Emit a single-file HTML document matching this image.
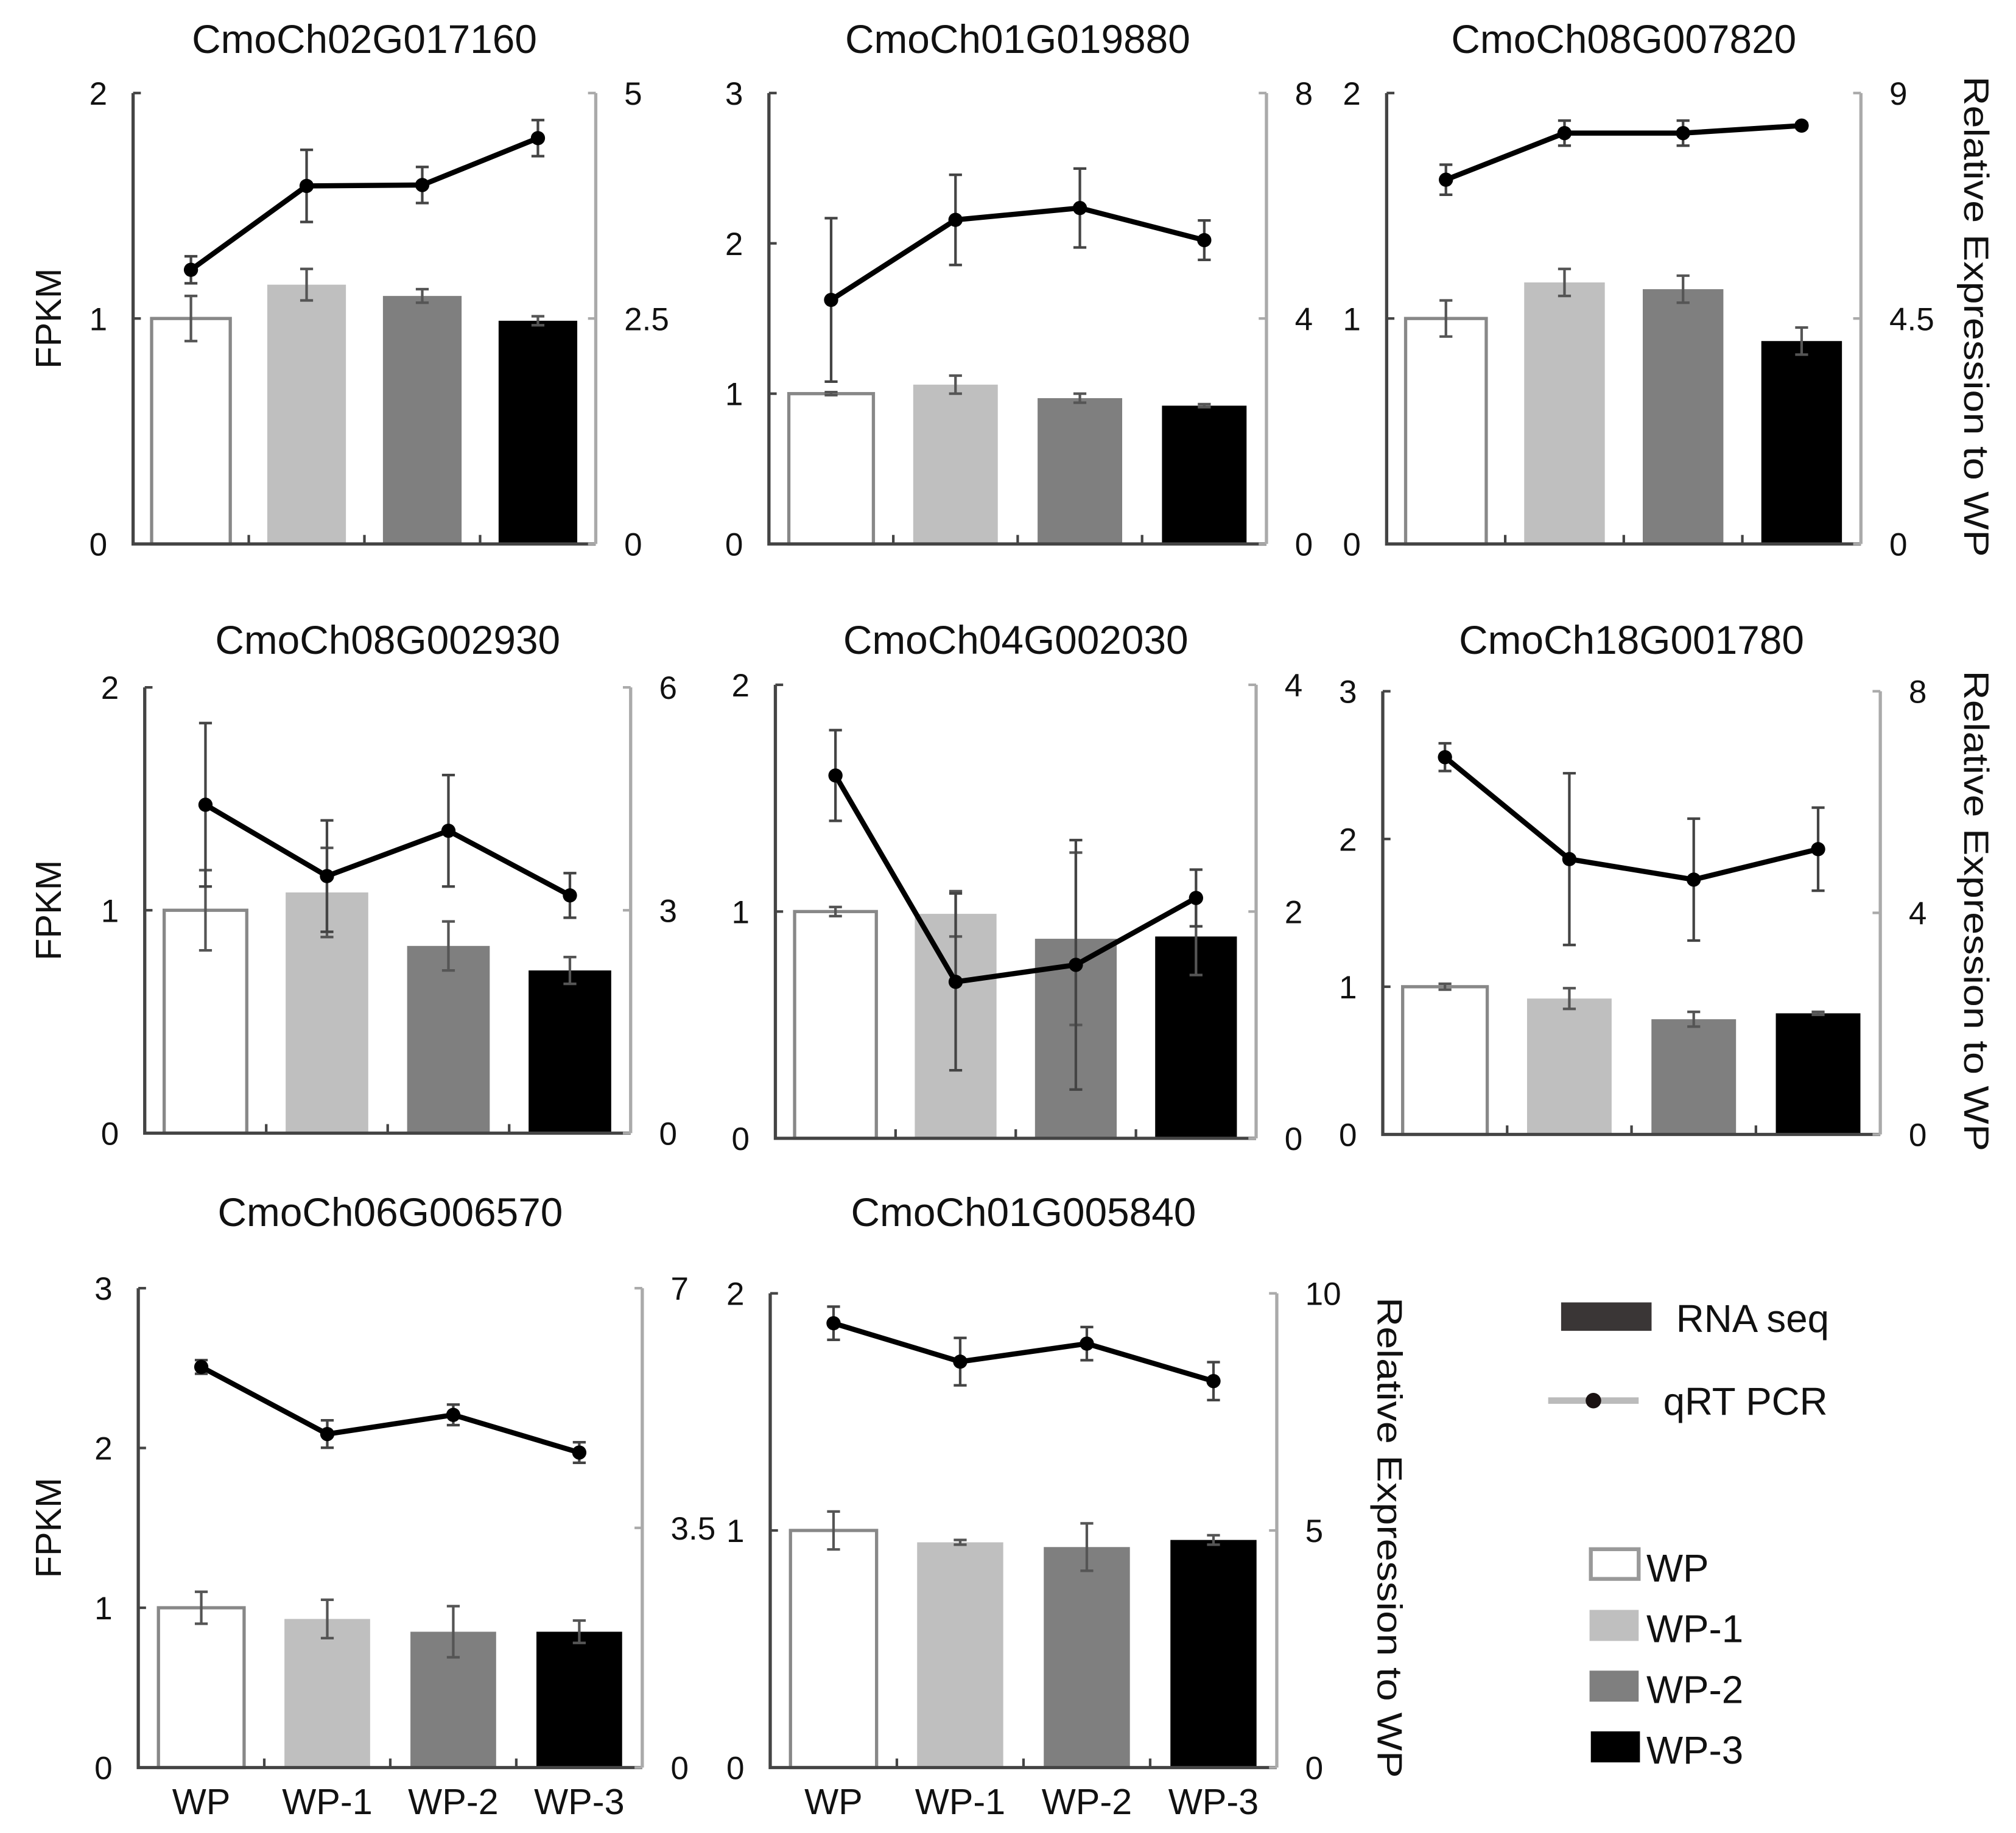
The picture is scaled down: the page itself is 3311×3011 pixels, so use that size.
<!DOCTYPE html>
<html><head><meta charset="utf-8">
<style>
html,body{margin:0;padding:0;background:#fff;}
svg{display:block;}
text{font-family:"Liberation Sans",Arial,sans-serif;fill:#111;}
</style></head>
<body>
<svg id="fig" width="3311" height="3011" viewBox="0 0 1560 1418.65" xmlns="http://www.w3.org/2000/svg">
<g id="panels"></g>
<g id="legend">
  <rect x="1208" y="1008" width="70" height="22" fill="#3a3636"/>
  <text x="1297" y="1031" font-size="30">RNA seq</text>
  <line x1="1198" y1="1084" x2="1268" y2="1084" stroke="#bbb" stroke-width="5"/>
  <circle cx="1233" cy="1084" r="6" fill="#1a1212"/>
  <text x="1287" y="1095" font-size="30">qRT PCR</text>
  <rect x="1231" y="1199" width="37" height="23" fill="#fff" stroke="#999" stroke-width="3"/>
  <text x="1274" y="1224" font-size="30">WP</text>
  <rect x="1230" y="1246" width="38" height="24" fill="#bfbfbf"/>
  <text x="1274" y="1271" font-size="30">WP-1</text>
  <rect x="1230" y="1293" width="38" height="24" fill="#7f7f7f"/>
  <text x="1274" y="1318" font-size="30">WP-2</text>
  <rect x="1231" y="1340" width="38" height="24" fill="#000"/>
  <text x="1274" y="1365" font-size="30">WP-3</text>
</g>
</svg>
<script>
// ---- data ----
const categories = ["WP","WP-1","WP-2","WP-3"];
const geneTitles = ["CmoCh02G017160","CmoCh01G019880","CmoCh08G007820","CmoCh08G002930","CmoCh04G002030","CmoCh18G001780","CmoCh06G006570","CmoCh01G005840"];
const fpkmValues = [[1.0,1.15,1.1,0.99],[1.0,1.06,0.97,0.92],[1.0,1.16,1.13,0.9],[1.0,1.08,0.84,0.73],[1.0,0.99,0.88,0.89],[1.0,0.92,0.78,0.82],[1.0,0.93,0.85,0.85],[1.0,0.95,0.93,0.96]];
const fpkmErrors = [[0.1,0.07,0.03,0.02],[0.01,0.06,0.03,0.01],[0.08,0.06,0.06,0.06],[0.18,0.2,0.11,0.06],[0.02,0.1,0.38,0.17],[0.02,0.07,0.05,0.01],[0.1,0.12,0.16,0.07],[0.08,0.01,0.1,0.02]];
const qpcrValues = [[3.04,3.97,3.98,4.5],[4.33,5.75,5.96,5.39],[7.27,8.2,8.2,8.35],[4.42,3.46,4.07,3.2],[3.2,1.38,1.53,2.12],[6.81,4.97,4.6,5.15],[5.85,4.87,5.15,4.6],[9.37,8.56,8.94,8.15]];
const qpcrErrors = [[0.15,0.4,0.2,0.2],[1.45,0.8,0.7,0.35],[0.3,0.25,0.25,0.05],[1.1,0.75,0.75,0.3],[0.4,0.78,1.1,0.25],[0.25,1.55,1.1,0.75],[0.1,0.2,0.15,0.15],[0.35,0.5,0.35,0.4]];
const leftTicks = [["0","1","2"],["0","1","2","3"],["0","1","2"],["0","1","2"],["0","1","2"],["0","1","2","3"],["0","1","2","3"],["0","1","2"]];
const rightTicks = [["0","2.5","5"],["0","4","8"],["0","4.5","9"],["0","3","6"],["0","2","4"],["0","4","8"],["0","3.5","7"],["0","5","10"]];

// ---- layout (not data) ----
const frames = [
 {l:103,r:461,t:72,b:421,ty:30},{l:595,r:980,t:72,b:421,ty:30},{l:1073,r:1440,t:72,b:421,ty:30},
 {l:112,r:488,t:532,b:877,ty:495},{l:600,r:972,t:530,b:881,ty:495},{l:1070,r:1455,t:535,b:878,ty:495},
 {l:107,r:497,t:997,b:1368,ty:938},{l:596,r:988,t:1001,b:1368,ty:938}];
const barFill=["#fff","#bfbfbf","#7f7f7f","#000"];
const NS="http://www.w3.org/2000/svg";
const root=document.getElementById("panels");
function mk(tag,attrs,parent){const e=document.createElementNS(NS,tag);for(const k in attrs)e.setAttribute(k,attrs[k]);(parent||root).appendChild(e);return e;}

frames.forEach((f,pi)=>{
  const g=mk("g",{});
  
  
  const lt=leftTicks[pi], rt=rightTicks[pi];
  const lmax=parseFloat(lt[lt.length-1]), rmax=parseFloat(rt[rt.length-1]);
  const yL=v=>f.b-(v/lmax)*(f.b-f.t);
  const yR=v=>f.b-(v/rmax)*(f.b-f.t);
  const slot=(f.r-f.l)/4;
  const xC=i=>f.l+slot*(i+0.5);
  const bw=slot*0.68;
  const tt=mk("text",{x:(f.l+f.r)/2,y:f.ty+11,"font-size":31,"text-anchor":"middle"},g);
  tt.textContent=geneTitles[pi];
  
  
  fpkmValues[pi].forEach((v,i)=>{
    const y=yL(v);
    const r=mk("rect",{x:xC(i)-bw/2,y:y,width:bw,height:f.b-y,fill:barFill[i],stroke:i==0?"#888":"none","stroke-width":2.5},g);
    
    
    const e=fpkmErrors[pi][i],y1=yL(v+e),y2=yL(v-e);
    const eb=mk("path",{d:`M${xC(i)} ${y1}V${y2}M${xC(i)-5} ${y1}H${xC(i)+5}M${xC(i)-5} ${y2}H${xC(i)+5}`,stroke:"#555",fill:"none","stroke-width":2},g);
    
    
  });
  const ax=mk("path",{d:`M${f.l} ${f.t}V${f.b}H${f.r}`,stroke:"#444",fill:"none","stroke-width":2.5},g);
  
  
  const ra=mk("line",{x1:f.r,y1:f.t,x2:f.r,y2:f.b,stroke:"#aaa","stroke-width":2.5},g);
  
  
  for(let i=1;i<4;i++){
    const tk=mk("line",{x1:f.l+slot*i,y1:f.b,x2:f.l+slot*i,y2:f.b-7,stroke:"#444","stroke-width":2},g);
    
    
  }
  lt.forEach(s=>{
    const y=yL(parseFloat(s));
    mk("line",{x1:f.l,y1:y,x2:f.l+6,y2:y,stroke:"#444","stroke-width":2},g);
    const t=mk("text",{x:f.l-20,y:y+9,"font-size":25,"text-anchor":"end"},g);
    t.textContent=s;
    
    
  });
  rt.forEach(s=>{
    const y=yR(parseFloat(s));
    mk("line",{x1:f.r-6,y1:y,x2:f.r,y2:y,stroke:"#aaa","stroke-width":2},g);
    const t=mk("text",{x:f.r+22,y:y+9,"font-size":25,"text-anchor":"start"},g);
    t.textContent=s;
    
    
  });
  const pts=qpcrValues[pi].map((v,i)=>xC(i)+","+yR(v)).join(" ");
  const pl=mk("polyline",{points:pts,fill:"none",stroke:"#000","stroke-width":4},g);
  
  
  qpcrValues[pi].forEach((v,i)=>{
    const e=qpcrErrors[pi][i],y1=yR(v+e),y2=yR(v-e);
    const eb=mk("path",{d:`M${xC(i)} ${y1}V${y2}M${xC(i)-5} ${y1}H${xC(i)+5}M${xC(i)-5} ${y2}H${xC(i)+5}`,stroke:"#444",fill:"none","stroke-width":2},g);
    
    
    const c=mk("circle",{cx:xC(i),cy:yR(v),r:5.5,fill:"#000"},g);
    
    
  });
  if(pi>=6){
    categories.forEach((c,i)=>{
      const t=mk("text",{x:xC(i),y:1404,"font-size":28,"text-anchor":"middle"},g);
      t.textContent=c;
      
      
    });
  }
  if(pi===0||pi===3||pi===6){
    const cy=(f.t+f.b)/2;
    const t=mk("text",{x:0,y:0,"font-size":28,"text-anchor":"middle",transform:`translate(47,${cy}) rotate(-90)`},g);
    t.textContent="FPKM";
    
    
  }
});
[[1520,245],[1520,705],[1066,1190]].forEach(p=>{
  const t=mk("text",{x:0,y:0,"font-size":27,"text-anchor":"middle",textLength:372,lengthAdjust:"spacingAndGlyphs",transform:`translate(${p[0]},${p[1]}) rotate(90)`});
  t.textContent="Relative Expression to WP";
  
  
});
</script>
</body></html>
